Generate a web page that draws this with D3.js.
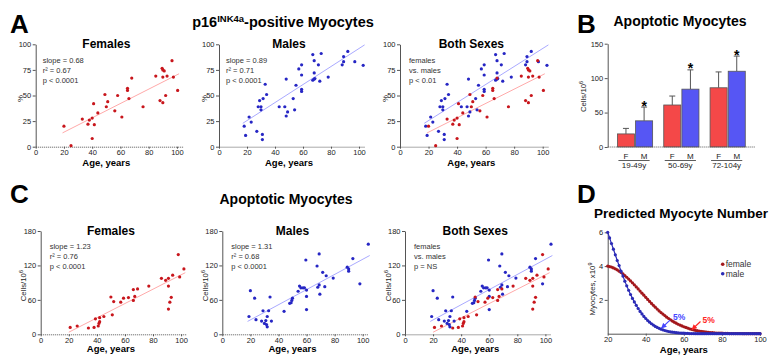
<!DOCTYPE html>
<html>
<head>
<meta charset="utf-8">
<script src="https://cdn.jsdelivr.net/npm/d3@7"></script>
<style>
body { margin: 0; background: #fff; }
svg { font-family: "Liberation Sans", Arial, sans-serif; }
</style>
</head>
<body>
<svg id="fig" width="773" height="356"></svg>
<script>
// ---- A: p16INK4a-positive myocytes (%), [age, value] ----
const p16Female = [[20,20],[25,1],[33,27],[37,22],[38,26],[40,28],[40,8],[41,42],[41.5,21.5],[44,33],
    [49,51],[50,39],[51,44],[56,35],[58,50],[61,29],[65,57],[65,55],[66,47],[68,67],[76,39],[85,69],
    [88,45],[89.5,76.5],[90,75],[90,68],[90,43],[91,74],[92,50],[93,69],[96.5,84],[97.5,68],[100.5,55]];
const p16Male = [[18,20],[19,11],[21.5,29],[23,24],[27,15],[28,39],[29,45],[30,39],[30,36],[31,12],
    [31,7],[31.5,47],[33,61],[34,51],[43,39],[47,39],[48,66],[48,30],[49,34],[53,47],[54,36],[55,60],
    [57,76],[59,70],[59,80],[59,56],[59,54],[67,90],[67,65],[68,66],[68,84],[68,72],[68.5,66.5],[71,80],
    [72,64],[73,91],[78,68],[88,80],[89,88],[89,83],[92,93],[97,83],[103,79.5]];
const p16FitFemale = [0.70, 0.2];   // slope, intercept
const p16FitMale = [0.88, 7.9];
const p16Ticks = [0, 25, 50, 75, 100];

// ---- C: apoptotic myocytes (cells/10^6), [age, value] ----
const apoFemale = [[21,12],[26,14.5],[34,11],[38,12],[39,27],[41,14.5],[41.5,19],[42,22],[42,29],[45,31],
    [50,65],[51,34],[52,57],[57,56],[59,63],[62.5,64],[66,78],[66,59],[67,66],[69,79],[77,84],[86,97.5],
    [89,94],[91,97.5],[91,84],[91,44],[92,56],[93,64.5],[94,103],[98,139],[99,100],[102,114]];
const apoMale = [[19,31],[20,76],[23,63],[24,25.5],[28,23],[29,41],[30,19],[31,24],[31.5,17],[32,31],
    [32,13],[33,41],[34,65],[35,23],[44,40],[48,54],[49,55],[49.5,59],[50,63],[54,75],[55,84],[56,81],
    [57.5,81],[58.5,81],[59.5,129.5],[60,77],[60,66],[60,43],[67.5,119],[68,82],[69,140],[69,86],
    [69.5,70],[71.5,108],[73,83],[74,102],[79,98],[89,117],[90,114],[90,110],[93,132],[98,88],[104,157]];
const apoFitFemale = [1.25, -21.4];
const apoFitMale = [1.32, -1.3];
const apoTicks = [0, 60, 120, 180];

const ageTicks = [0, 20, 40, 60, 80, 100];

// ---- B: apoptotic myocytes by age group ----
const ageGroups = ['19-49y', '50-69y', '72-104y'];
const sexes = ['F', 'M'];
const barFemale = [19, 61, 86];
const barMale = [38, 84, 110];
const errFemale = [8, 13, 23];
const errMale = [20, 28, 22];
const sigMale = ['*', '*', '*'];
const barTicks = [0, 50, 100, 150];

// ---- D: predicted myocyte number (x10^9), one value per year of age 20..100 ----
const predAges = d3.range(20, 101);
const predFemale = [4.00,3.97,3.94,3.89,3.84,3.78,3.70,3.62,3.54,3.44,
    3.34,3.23,3.12,3.01,2.89,2.77,2.65,2.52,2.40,2.28,
    2.15,2.03,1.91,1.79,1.68,1.57,1.46,1.35,1.25,1.16,
    1.07,0.98,0.90,0.82,0.75,0.68,0.62,0.56,0.51,0.46,
    0.41,0.37,0.33,0.29,0.26,0.23,0.20,0.18,0.16,0.14,
    0.12,0.11,0.09,0.08,0.07,0.06,0.05,0.04,0.04,0.03,
    0.03,0.02,0.02,0.02,0.01,0.01,0.01,0.01,0.01,0.01,
    0.01,0,0,0,0,0,0,0,0,0,
    0];
const predMale = [6.00,5.67,5.33,5.00,4.67,4.33,4.03,3.70,3.41,3.11,
    2.83,2.57,2.32,2.09,1.88,1.68,1.49,1.32,1.17,1.02,
    0.90,0.78,0.68,0.59,0.51,0.43,0.37,0.32,0.27,0.23,
    0.19,0.16,0.13,0.11,0.09,0.08,0.06,0.05,0.04,0.03,
    0.03,0.02,0.02,0.01,0.01,0.01,0,0,0,0,
    0,0,0,0,0,0,0,0,0,0,
    0,0,0,0,0,0,0,0,0,0,
    0,0,0,0,0,0,0,0,0,0,
    0];
const predXTicks = [20, 40, 60, 80, 100];
const predYTicks = [2, 4, 6];
const fivePct = [
    {label: '5%', age: 48, value: 0.3, color: '#4747ff', dx: 12, dy: -9},
    {label: '5%', age: 64, value: 0.22, color: '#ff2525', dx: 11, dy: -7}
];

const RED = '#c8161c', BLUE = '#2626c4';
const RED_FIT = '#ffaaaa', BLUE_FIT = '#aaaaff';

const svg = d3.select('#fig');

function translate(x, y) {
    return `translate(${x},${y})`;
}

function styleAxis(sel) {
    sel.attr('font-family', null).attr('font-size', 7.5);
    sel.select('.domain').attr('stroke', '#555');
    sel.selectAll('.tick line').attr('stroke', '#555');
    sel.selectAll('.tick text').attr('fill', '#222');
}

// text with a raised part, e.g. Cells/10^6
function supText(sel, base, sup, rest, supSize) {
    sel.append('tspan').text(base);
    sel.append('tspan').attr('dy', -supSize * 0.55).attr('font-size', supSize).text(sup);
    if (rest) sel.append('tspan').attr('dy', supSize * 0.55).text(rest);
    return sel;
}

function yLabel(g, x, y, size, base, sup) {
    let t = g.append('text')
        .attr('transform', `${translate(x, y)} rotate(-90)`)
        .attr('text-anchor', 'middle')
        .attr('font-size', size)
        .attr('fill', '#222');
    if (sup) supText(t, base, sup, null, size * 0.7);
    else t.text(base);
}

function scatterPanel(p) {
    let x = d3.scaleLinear().domain([0, 104]).range([p.left, p.left + p.width]);
    let y = d3.scaleLinear().domain([0, p.yMax]).range([p.bottom, p.top]);
    let g = svg.append('g');

    g.append('g')
        .attr('transform', translate(0, p.bottom))
        .call(d3.axisBottom(x).tickValues(ageTicks).tickSize(2).tickSizeOuter(0).tickPadding(p.xPad))
        .call(styleAxis)
        .select('.domain').attr('stroke-dasharray', '1,1');

    g.append('g')
        .attr('transform', translate(p.left, 0))
        .call(d3.axisLeft(y).tickValues(p.yTicks).tickSize(3).tickSizeOuter(0).tickPadding(1.5))
        .call(styleAxis);

    p.series.forEach(s => {
        let ext = d3.extent(s.data, d => d[0]);
        let x0 = ext[0] - 1, x1 = ext[1] + 1;
        g.append('line')
            .attr('x1', x(x0)).attr('y1', y(s.fit[0] * x0 + s.fit[1]))
            .attr('x2', x(x1)).attr('y2', y(s.fit[0] * x1 + s.fit[1]))
            .attr('stroke', s.fitColor)
            .attr('stroke-width', 1);
    });

    p.series.forEach(s => {
        g.selectAll(null)
            .data(s.data)
            .enter()
            .append('circle')
            .attr('cx', d => x(d[0]))
            .attr('cy', d => y(d[1]))
            .attr('r', 1.6)
            .attr('fill', s.color);
    });

    g.append('text')
        .attr('x', x(50)).attr('y', p.top + 3.8)
        .attr('text-anchor', 'middle')
        .attr('font-size', 12).attr('font-weight', 'bold')
        .text(p.title);

    p.stats.forEach((line, i) => {
        g.append('text')
            .attr('x', p.left + p.statX)
            .attr('y', p.top + 18.2 + i * 10)
            .attr('font-size', 7.5)
            .attr('fill', '#333')
            .text(line);
    });

    g.append('text')
        .attr('x', x(50)).attr('y', p.bottom + p.xLabelDy)
        .attr('text-anchor', 'middle')
        .attr('font-size', 9.5).attr('font-weight', 'bold')
        .text('Age, years');

    yLabel(g, p.left - p.yLabelDx, (p.top + p.bottom) / 2 + 3, 7.8, p.yLabel, p.yLabelSup);
}

// ---- panel A ----
const aLefts = [35.7, 219, 400], aWidths = [146.9, 145.6, 148.4];
const fSeries = (data, fit) => ({data: data, fit: fit, color: RED, fitColor: RED_FIT});
const mSeries = (data, fit) => ({data: data, fit: fit, color: BLUE, fitColor: BLUE_FIT});

[
    {title: 'Females', series: [fSeries(p16Female, p16FitFemale)], stats: ['slope = 0.68', 'r² = 0.67', 'p < 0.0001']},
    {title: 'Males', series: [mSeries(p16Male, p16FitMale)], stats: ['slope = 0.89', 'r² = 0.71', 'p < 0.0001']},
    {title: 'Both Sexes', series: [mSeries(p16Male, p16FitMale), fSeries(p16Female, p16FitFemale)],
        stats: ['females', 'vs. males', 'p < 0.01']}
].forEach((d, i) => scatterPanel(Object.assign(d, {
    left: aLefts[i], width: aWidths[i], top: 44.3, bottom: 146.7,
    yMax: 100, yTicks: p16Ticks, statX: i == 2 ? 9 : 7,
    xPad: 1, xLabelDy: 19.5, yLabel: '%', yLabelDx: 12.5
})));

// ---- panel C ----
const cLefts = [40.7, 222.3, 405];
[
    {title: 'Females', series: [fSeries(apoFemale, apoFitFemale)], stats: ['slope = 1.23', 'r² = 0.76', 'p < 0.0001']},
    {title: 'Males', series: [mSeries(apoMale, apoFitMale)], stats: ['slope = 1.31', 'r² = 0.68', 'p < 0.0001']},
    {title: 'Both Sexes', series: [mSeries(apoMale, apoFitMale), fSeries(apoFemale, apoFitFemale)],
        stats: ['females', 'vs. males', 'p = NS']}
].forEach((d, i) => scatterPanel(Object.assign(d, {
    left: cLefts[i], width: 146, top: 231, bottom: 334.3,
    yMax: 180, yTicks: apoTicks, statX: 9,
    xPad: 1, xLabelDy: 17.8, yLabel: 'Cells/10', yLabelSup: '6', yLabelDx: 14.5
})));

// ---- panel B: bars ----
{
    let xB = d3.scaleBand().domain(ageGroups).range([607.7, 755]).paddingInner(0.24).paddingOuter(0.21);
    let xSex = d3.scaleBand().domain(sexes).range([0, xB.bandwidth()]).paddingInner(0.06);
    let yB = d3.scaleLinear().domain([0, 150]).range([147, 43.7]);
    let g = svg.append('g');

    let bars = ageGroups.flatMap((grp, i) => [
        {grp: grp, sex: 'F', v: barFemale[i], e: errFemale[i], fill: '#f44848', sig: ''},
        {grp: grp, sex: 'M', v: barMale[i], e: errMale[i], fill: '#5656f4', sig: sigMale[i]}
    ]);
    let cx = d => xB(d.grp) + xSex(d.sex) + xSex.bandwidth() / 2;

    // error bars (upper only)
    g.selectAll('line.err')
        .data(bars)
        .enter()
        .append('line')
        .attr('class', 'err')
        .attr('x1', cx).attr('x2', cx)
        .attr('y1', d => yB(d.v)).attr('y2', d => yB(d.v + d.e))
        .attr('stroke', '#555');
    g.selectAll('line.cap')
        .data(bars)
        .enter()
        .append('line')
        .attr('class', 'cap')
        .attr('x1', d => cx(d) - 3).attr('x2', d => cx(d) + 3)
        .attr('y1', d => yB(d.v + d.e)).attr('y2', d => yB(d.v + d.e))
        .attr('stroke', '#555');

    g.selectAll('rect')
        .data(bars)
        .enter()
        .append('rect')
        .attr('x', d => xB(d.grp) + xSex(d.sex))
        .attr('y', d => yB(d.v))
        .attr('width', xSex.bandwidth())
        .attr('height', d => yB(0) - yB(d.v))
        .attr('fill', d => d.fill)
        .attr('stroke', '#555')
        .attr('stroke-width', 0.8);

    g.selectAll('text.sig')
        .data(bars)
        .enter()
        .append('text')
        .attr('class', 'sig')
        .attr('x', cx)
        .attr('y', d => yB(d.v + d.e) + 3.5)
        .attr('text-anchor', 'middle')
        .attr('font-size', 14).attr('font-weight', 'bold')
        .text(d => d.sig);

    g.append('line')
        .attr('x1', 607.7).attr('x2', 755)
        .attr('y1', yB(0)).attr('y2', yB(0))
        .attr('stroke', '#555').attr('stroke-dasharray', '1,1');

    g.append('g')
        .attr('transform', translate(607.7, 0))
        .call(d3.axisLeft(yB).tickValues(barTicks).tickSize(3).tickSizeOuter(0).tickPadding(1.5))
        .call(styleAxis);

    g.selectAll('text.sex')
        .data(bars)
        .enter()
        .append('text')
        .attr('class', 'sex')
        .attr('x', cx)
        .attr('y', 158.5)
        .attr('text-anchor', 'middle')
        .attr('font-size', 8).attr('fill', '#222')
        .text(d => d.sex);

    g.selectAll('line.under')
        .data(ageGroups)
        .enter()
        .append('line')
        .attr('class', 'under')
        .attr('x1', d => xB(d) + 1).attr('x2', d => xB(d) + xB.bandwidth() - 3)
        .attr('y1', 160.5).attr('y2', 160.5)
        .attr('stroke', '#333').attr('stroke-width', 0.8);

    g.selectAll('text.grp')
        .data(ageGroups)
        .enter()
        .append('text')
        .attr('class', 'grp')
        .attr('x', d => xB(d) + xB.bandwidth() / 2 - 1)
        .attr('y', 168.3)
        .attr('text-anchor', 'middle')
        .attr('font-size', 8).attr('fill', '#222')
        .text(d => d);

    yLabel(g, 586, 96.5, 7.8, 'Cells/10', '6');
}

// ---- panel D: predicted myocyte number ----
{
    let xD = d3.scaleLinear().domain([20, 100]).range([607.7, 760]);
    let yD = d3.scaleLinear().domain([0, 6]).range([333.7, 232.3]);
    let g = svg.append('g');

    let defs = svg.append('defs');
    fivePct.forEach((a, i) => {
        defs.append('marker')
            .attr('id', 'arrow' + i)
            .attr('viewBox', '0 0 10 10')
            .attr('refX', 9).attr('refY', 5)
            .attr('markerWidth', 4.5).attr('markerHeight', 4.5)
            .attr('orient', 'auto')
            .append('path')
            .attr('d', 'M0,0L10,5L0,10z')
            .attr('fill', a.color);
    });

    g.append('g')
        .attr('transform', translate(0, yD(0)))
        .call(d3.axisBottom(xD).tickValues(predXTicks).tickSize(2).tickSizeOuter(0).tickPadding(0.5))
        .call(styleAxis);

    g.append('g')
        .attr('transform', translate(xD(20), 0))
        .call(d3.axisLeft(yD).tickValues(predYTicks).tickFormat(d3.format('d'))
            .tickSize(3).tickSizeOuter(0).tickPadding(1.5))
        .call(styleAxis);

    [{vals: predFemale, color: '#a3181c'}, {vals: predMale, color: '#2b2bb6'}].forEach(s => {
        let pts = predAges.map((a, i) => [a, s.vals[i]]);
        g.append('path')
            .datum(pts)
            .attr('d', d3.line().x(d => xD(d[0])).y(d => yD(d[1])))
            .attr('fill', 'none')
            .attr('stroke', s.color)
            .attr('stroke-width', 1.2);
        g.selectAll(null)
            .data(pts)
            .enter()
            .append('circle')
            .attr('cx', d => xD(d[0]))
            .attr('cy', d => yD(d[1]))
            .attr('r', 1.6)
            .attr('fill', s.color);
    });

    fivePct.forEach((a, i) => {
        let tx = xD(a.age), ty = yD(a.value);
        g.append('line')
            .attr('x1', tx + 9).attr('y1', ty - 8.5)
            .attr('x2', tx + 0.5).attr('y2', ty - 0.5)
            .attr('stroke', a.color).attr('stroke-width', 1.2)
            .attr('marker-end', `url(#arrow${i})`);
        g.append('text')
            .attr('x', tx + a.dx).attr('y', ty + a.dy)
            .attr('font-size', 8.5).attr('font-weight', 'bold')
            .attr('fill', a.color)
            .text(a.label);
    });

    let legend = g.selectAll('g.legend')
        .data([{name: 'female', color: '#a3181c'}, {name: 'male', color: '#2b2bb6'}])
        .enter()
        .append('g')
        .attr('class', 'legend')
        .attr('transform', (d, i) => translate(722.7, 264.3 + i * 9.4));
    legend.append('circle').attr('r', 1.8).attr('fill', d => d.color);
    legend.append('text')
        .attr('x', 3).attr('y', 3)
        .attr('font-size', 8.5).attr('fill', '#333')
        .text(d => d.name);

    g.append('text')
        .attr('x', xD(60)).attr('y', 352.5)
        .attr('text-anchor', 'middle')
        .attr('font-size', 9.5).attr('font-weight', 'bold')
        .text('Age, years');

    yLabel(g, 595, 289, 7.8, 'Myocytes, x10', '9');

    g.append('text')
        .attr('x', 681).attr('y', 218)
        .attr('text-anchor', 'middle')
        .attr('font-size', 13.5).attr('font-weight', 'bold')
        .text('Predicted Myocyte Number');
}

// ---- titles and panel letters ----
let title = svg.append('text')
    .attr('x', 283).attr('y', 27)
    .attr('text-anchor', 'middle')
    .attr('font-size', 14.5).attr('font-weight', 'bold');
supText(title, 'p16', 'INK4a', '-positive Myocytes', 9.5);

svg.append('text')
    .attr('x', 680).attr('y', 26)
    .attr('text-anchor', 'middle')
    .attr('font-size', 14).attr('font-weight', 'bold')
    .text('Apoptotic Myocytes');

svg.append('text')
    .attr('x', 286).attr('y', 204)
    .attr('text-anchor', 'middle')
    .attr('font-size', 14).attr('font-weight', 'bold')
    .text('Apoptotic Myocytes');

svg.selectAll('text.letter')
    .data([['A', 10, 33], ['B', 577, 33], ['C', 10, 203], ['D', 577, 203]])
    .enter()
    .append('text')
    .attr('class', 'letter')
    .attr('x', d => d[1]).attr('y', d => d[2])
    .attr('font-size', 26).attr('font-weight', 'bold')
    .text(d => d[0]);
</script>
</body>
</html>
